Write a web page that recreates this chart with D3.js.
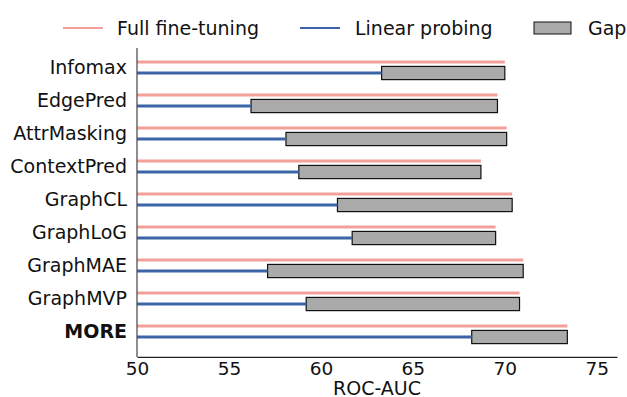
<!DOCTYPE html>
<html>
<head>
<meta charset="utf-8">
<script src="https://cdn.jsdelivr.net/npm/d3@7"></script>
<style>
  body { margin: 0; background: #fff; }
  text { font-family: "DejaVu Sans", sans-serif; fill: #111; }
</style>
</head>
<body>
<svg id="grafico"></svg>
<script>
// dados
var metodos = ['Infomax', 'EdgePred', 'AttrMasking', 'ContextPred', 'GraphCL', 'GraphLoG', 'GraphMAE', 'GraphMVP', 'MORE'];
var ajusteCompleto = [70.0, 69.6, 70.1, 68.7, 70.4, 69.5, 71.0, 70.8, 73.4];
var sondagemLinear = [63.3, 56.2, 58.1, 58.8, 60.9, 61.7, 57.1, 59.2, 68.2];
var ticksX = [50, 55, 60, 65, 70, 75];

var largura = 627, altura = 397;
var svg = d3.select('#grafico')
            .attr('width', largura)
            .attr('height', altura);

var margem = { esquerda: 137, direita: 10, superior: 48, inferior: 40 };

var x = d3.scaleLinear()
          .domain([50, 76.1])
          .range([margem.esquerda, largura - margem.direita]);

// linhas por índice: o tick fica entre a linha vermelha e a azul
var y = d3.scaleLinear()
          .domain([0, 8])
          .range([67.5, 331.5]);
var yTopo = y(-0.59), yBase = y(8.77);
var desloc = 0.167, alturaBarra = y(0.4) - y(0);

var vermelho = '#f4a09a', azul = '#3b65a7';

// barras do gap
svg.selectAll('.gap')
  .data(metodos)
  .enter()
    .append('rect')
    .classed('gap', true)
    .attr('x', (d, i) => x(sondagemLinear[i]))
    .attr('y', (d, i) => y(i + desloc) - alturaBarra / 2)
    .attr('width', (d, i) => x(ajusteCompleto[i]) - x(sondagemLinear[i]))
    .attr('height', alturaBarra)
    .attr('fill', '#aaaaaa')
    .attr('stroke', '#111')
    .attr('stroke-width', 1.2);

svg.selectAll('.completo')
  .data(metodos)
  .enter()
    .append('line')
    .classed('completo', true)
    .attr('x1', x(50))
    .attr('x2', (d, i) => x(ajusteCompleto[i]))
    .attr('y1', (d, i) => y(i - desloc))
    .attr('y2', (d, i) => y(i - desloc))
    .attr('stroke', vermelho)
    .attr('stroke-width', 3);

svg.selectAll('.linear')
  .data(metodos)
  .enter()
    .append('line')
    .classed('linear', true)
    .attr('x1', x(50))
    .attr('x2', (d, i) => x(sondagemLinear[i]))
    .attr('y1', (d, i) => y(i + desloc))
    .attr('y2', (d, i) => y(i + desloc))
    .attr('stroke', azul)
    .attr('stroke-width', 3);

// eixos
var eixoX = d3.axisBottom(x).tickValues(ticksX).tickSize(0).tickPadding(5);
var gX = svg.append('g')
            .attr('transform', 'translate(0,' + yBase + ')')
            .call(eixoX);
gX.select('.domain').attr('stroke', '#222').attr('stroke-width', 1.2);
gX.selectAll('text').style('font-size', '18.5px').attr('fill', '#111');

svg.append('line')
   .attr('x1', x(50)).attr('x2', x(50))
   .attr('y1', yTopo).attr('y2', yBase)
   .attr('stroke', '#444')
   .attr('stroke-width', 1.2);

svg.selectAll('.rotulo')
  .data(metodos)
  .enter()
    .append('text')
    .classed('rotulo', true)
    .attr('x', x(50) - 10)
    .attr('y', (d, i) => y(i))
    .attr('dy', '0.36em')
    .style('text-anchor', 'end')
    .style('font-size', '19px')
    .style('font-weight', d => d === 'MORE' ? 'bold' : 'normal')
    .text(d => d);

svg.append('text')
   .attr('x', (x(50) + largura - margem.direita) / 2)
   .attr('y', 394.5)
   .style('text-anchor', 'middle')
   .style('font-size', '19px')
   .text('ROC-AUC');

// legenda
var legenda = svg.append('g').attr('transform', 'translate(0,28)');
legenda.append('line').attr('x1', 63).attr('x2', 103).attr('stroke', vermelho).attr('stroke-width', 2);
legenda.append('text').attr('x', 117).attr('dy', '0.36em').style('font-size', '19px').text('Full fine-tuning');
legenda.append('line').attr('x1', 300).attr('x2', 340).attr('stroke', azul).attr('stroke-width', 2);
legenda.append('text').attr('x', 355).attr('dy', '0.36em').style('font-size', '19px').text('Linear probing');
legenda.append('rect').attr('x', 534).attr('y', -6).attr('width', 37).attr('height', 12)
       .attr('fill', '#aaaaaa').attr('stroke', '#111').attr('stroke-width', 1);
legenda.append('text').attr('x', 588).attr('dy', '0.36em').style('font-size', '19px').text('Gap');
</script>
</body>
</html>
